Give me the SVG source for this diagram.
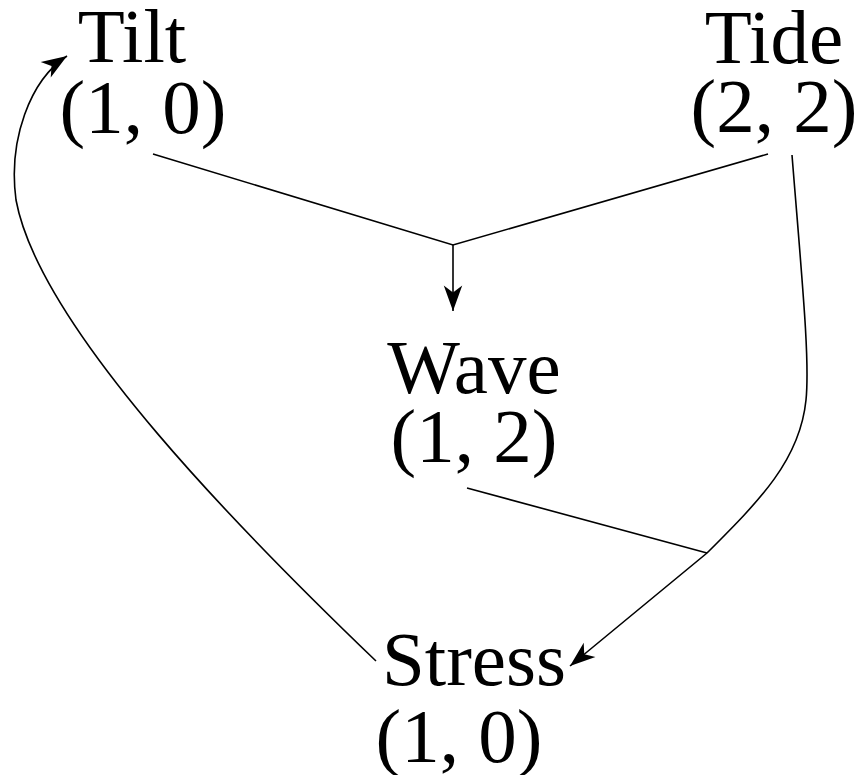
<svg xmlns="http://www.w3.org/2000/svg" width="860" height="775" viewBox="0 0 860 775">
<style>
text{font-family:"Liberation Serif","Times New Roman",serif;font-size:77px;fill:#000;text-anchor:middle}
.e{fill:none;stroke:#000;stroke-width:1.6}
</style>
<defs>
<marker id="ah" markerUnits="userSpaceOnUse" markerWidth="30" markerHeight="30" viewBox="-24 -10 26 20" refX="0" refY="0" orient="auto">
<path d="M0,0 L-22,-8 L-16,0 L-22,8 Z" fill="#000"/>
</marker>
</defs>
<rect width="860" height="775" fill="#fff"/>
<g id="edges">
<path class="e" d="M153,154 L453,245 L768,154"/>
<path class="e" d="M453,245 L453,311" marker-end="url(#ah)"/>
<path class="e" d="M467,488 L707,553"/>
<path class="e" d="M792,155 C802,280 810,360 806,400 C800,460 760,500 707,553 L570,666" marker-end="url(#ah)"/>
<path class="e" d="M376,661 C250,540 40,330 16,200 C8,140 30,80 67,56" marker-end="url(#ah)"/>
</g>
<g id="tilt"><text x="132" y="62">Tilt</text><text x="143" y="133">(1, 0)</text></g>
<g id="tide"><text x="774" y="63">Tide</text><text x="774" y="132">(2, 2)</text></g>
<g id="wave"><text x="474" y="393">Wave</text><text x="474" y="462">(1, 2)</text></g>
<g id="stress"><text x="474" y="685">Stress</text><text x="459" y="762">(1, 0)</text></g>
</svg>
